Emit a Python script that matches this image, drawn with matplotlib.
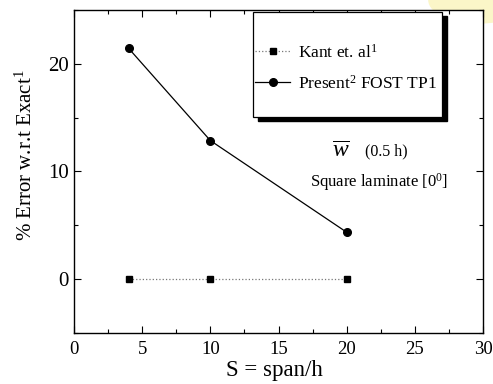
import matplotlib as mpl
mpl.use('Agg')
import matplotlib.pyplot as plt
from matplotlib.patches import Rectangle, Ellipse

plt.rcParams['font.family'] = ['Liberation Serif', 'DejaVu Serif']
plt.rcParams['mathtext.fontset'] = 'custom'
plt.rcParams['mathtext.rm'] = 'Liberation Serif'
plt.rcParams['mathtext.it'] = 'Liberation Serif:italic'

# data
span = [4, 10, 20]
kant = [0, 0, 0]
present = [21.45, 12.87, 4.35]

fig = plt.figure(figsize=(4.93, 3.84), dpi=100)

# faint yellow blob at the top right corner
fig.patches.append(Ellipse((0.97, 1.0), 0.2, 0.12, transform=fig.transFigure,
                           color='#fbf6c8', zorder=-1))

ax = fig.add_axes([0.150, 0.133, 0.830, 0.841])

ax.plot(span, kant, ':', color='#777777', lw=0.9, marker='s', ms=5,
        mfc='black', mec='black', label='Kant et. al$^{1}$')
ax.plot(span, present, '-', color='black', lw=0.9, marker='o', ms=5.5,
        mfc='black', mec='black', label='Present$^{2}$ FOST TP1')

ax.set_xlim(0, 30)
ax.set_ylim(-5, 25)
ax.set_xticks([0, 5, 10, 15, 20, 25, 30])
ax.set_xticks([2.5, 7.5, 12.5, 17.5, 22.5, 27.5], minor=True)
ax.set_yticks([0, 10, 20])
ax.set_yticks([-5, 5, 15, 25], minor=True)
ax.tick_params(which='both', direction='in', top=True, right=True, width=0.8)
ax.tick_params(which='major', length=5)
ax.tick_params(which='minor', length=3)
ax.tick_params(axis='x', labelsize=13.5, pad=6)
ax.tick_params(axis='y', labelsize=15)
for s in ax.spines.values():
    s.set_linewidth(1.0)

ax.set_xlabel('S = span/h', fontsize=16.5)
ax.set_ylabel('% Error w.r.t Exact$^{1}$', fontsize=15)
ax.xaxis.set_label_coords(0.49, -0.085)
ax.yaxis.set_label_coords(-0.09, 0.55)

# legend box with a solid black shadow
x0, x1 = (253 - 74) / 409 * 30, (442 - 74) / 409 * 30
ytop, ybot = 25 - (12 - 10) / 10.8, 25 - (117 - 10) / 10.8
dx, dy = 5 / 13.63, 4 / 10.8
ax.add_patch(Rectangle((x0 + dx, ybot - dy), x1 - x0, ytop - ybot,
                       color='black', zorder=3))
ax.add_patch(Rectangle((x0, ybot), x1 - x0, ytop - ybot, facecolor='white',
                       edgecolor='black', lw=0.9, zorder=4))
leg = ax.legend(loc='center', bbox_to_anchor=((x0 + x1) / 2 - 0.1, (ytop + ybot) / 2 - 0.35),
                bbox_transform=ax.transData, frameon=False, fontsize=12.5,
                handlelength=2.0, handletextpad=0.45, labelspacing=0.75)
leg.set_zorder(5)

ax.text(19.6, 11.3, r'$\overline{w}$', fontsize=17, ha='center', va='baseline')
ax.text(22.9, 11.5, '(0.5 h)', fontsize=11.5, ha='center', va='baseline')
ax.text(22.4, 8.55, 'Square laminate [0$^{0}$]', fontsize=12, ha='center',
        va='baseline')

plt.savefig('out.png')
plt.close()
